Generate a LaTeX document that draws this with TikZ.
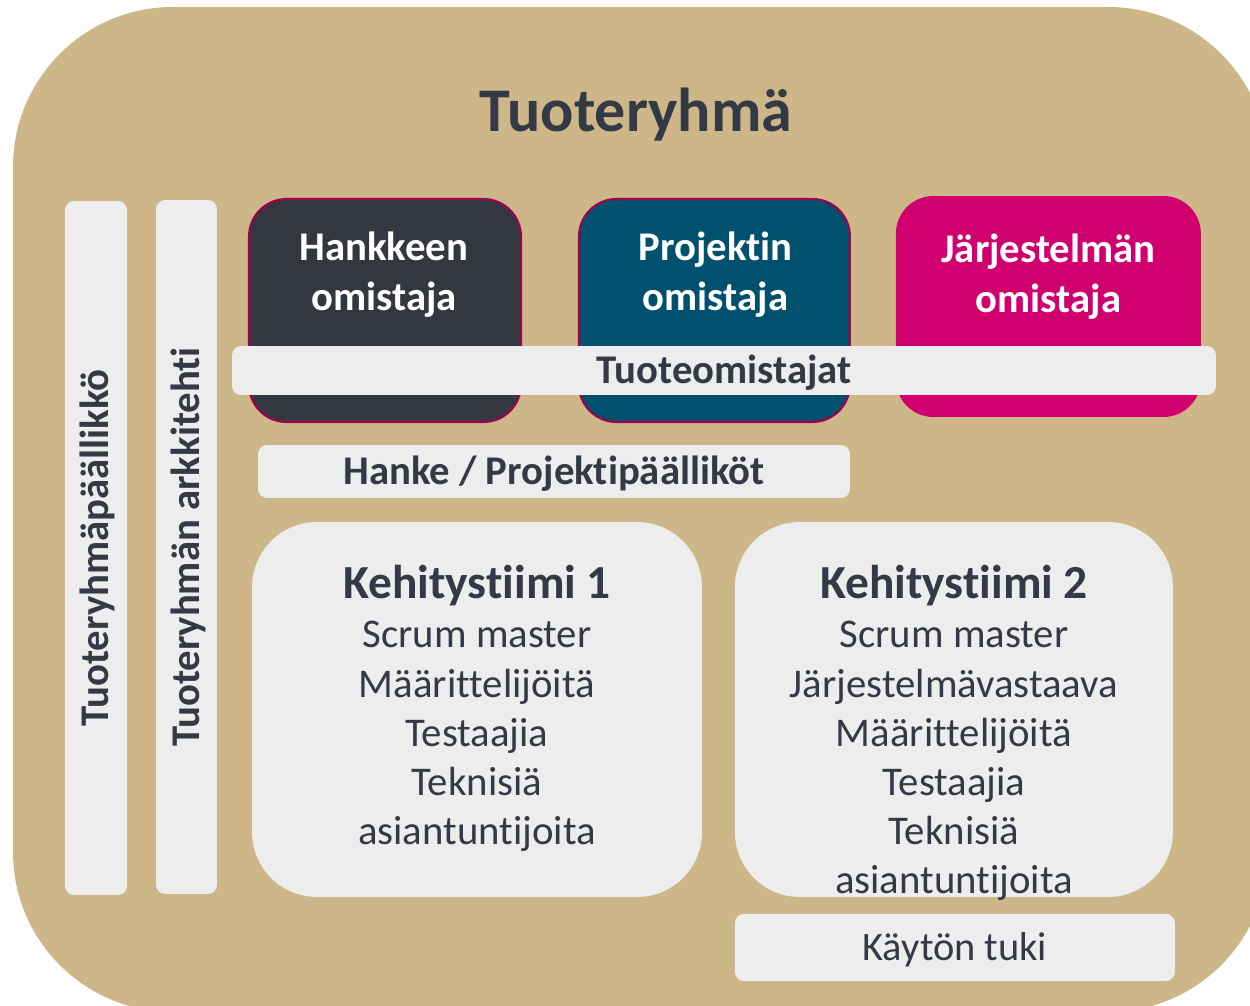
\documentclass[tikz,border=0pt]{standalone}
\usepackage{fontspec}
\setmainfont{Carlito}[Ligatures={NoCommon,NoContextual,NoRequired}]
\usepackage{tikz}
\usetikzlibrary{shapes.geometric, positioning}
\definecolor{ryhma}{HTML}{CDB788}
\definecolor{vaalea}{HTML}{EDEDED}
\definecolor{muste}{HTML}{343A45}
\definecolor{hankbg}{HTML}{333740}
\definecolor{projbg}{HTML}{00506E}
\definecolor{jarjbg}{HTML}{D0006F}
\definecolor{reuna}{HTML}{A00050}
\tikzstyle{owner} = [rectangle, rounded corners=0.75cm, minimum width=5.44cm, minimum height=4.46cm, draw=reuna, line width=1.2pt]
\tikzstyle{ownertext} = [anchor=north, inner sep=0pt, align=center, text=white, font=\bfseries\fontsize{23.2}{28}\selectfont]
\tikzstyle{bar} = [rectangle, rounded corners=0.18cm, fill=vaalea, text=muste, text height=14.7pt, text depth=0pt, font=\bfseries\fontsize{23.2}{28}\selectfont]
\tikzstyle{vbar} = [bar, rotate=90, minimum width=13.88cm, minimum height=1.24cm, font=\bfseries\fontsize{23.2}{28}\selectfont, text height=14.7pt]
\tikzstyle{team} = [rectangle, rounded corners=1.3cm, fill=vaalea, minimum width=9cm, minimum height=7.5cm]
\tikzstyle{teamtext} = [anchor=north, inner sep=0pt, align=center, text=muste, font=\fontsize{23.2}{28}\selectfont]

\begin{document}
\begin{tikzpicture}[x=0.02cm, y=-0.02cm, node distance=2cm]
                \useasboundingbox (0,0) rectangle (1250,1006);
                \clip (0,0) rectangle (1250,1006);
                \fill [ryhma, rounded corners=3.2cm] (13,7) rectangle (1268,1012);
                \node (otsikko) [anchor=base, text=muste, font=\bfseries\fontsize{35.3}{40}\selectfont] at (636,132) {Tuoteryhmä};
                % pystypalkit
                \node (paallikko) [vbar] at (96,548) {Tuoteryhmäpäällikkö};
                \node (arkkitehti) [vbar, minimum height=1.22cm] at (186.5,547) {Tuoteryhmän arkkitehti};
                % omistajat
                \node (hank) [owner, fill=hankbg] at (385,310.5) {};
                \node (proj) [owner, fill=projbg, minimum width=5.42cm, right of=hank, xshift=4.59cm] {};
                \node (jarj) [owner, fill=jarjbg, draw=none, minimum width=6.1cm, minimum height=4.42cm, right of=proj, xshift=4.68cm, yshift=0.08cm] {};
                \node (hanktxt) [ownertext] at (384,232) {Hankkeen\\omistaja};
                \node (projtxt) [ownertext] at (715.5,232) {Projektin\\omistaja};
                \node (jarjtxt) [ownertext] at (1048.5,234) {Järjestelmän\\omistaja};
                \node (tuoteom) [bar, minimum width=19.68cm, minimum height=0.98cm] at (724,370.5) {Tuoteomistajat};
                \node (hanke) [bar, minimum width=11.84cm, minimum height=1.06cm] at (554,471.5) {Hanke / Projektipäälliköt};
                % tiimit
                \node (tiimi1) [team] at (477,709.5) {};
                \node (tiimi2) [team, minimum width=8.76cm, right of=tiimi1, xshift=7.54cm] {};
                \node (tiimi1txt) [teamtext] at (477,565) {{\bfseries\fontsize{27}{28}\selectfont Kehitystiimi 1}\\Scrum master\\Määrittelijöitä\\Testaajia\\Teknisiä\\asiantuntijoita};
                \node (tiimi2txt) [teamtext] at (954,565) {{\bfseries\fontsize{27}{28}\selectfont Kehitystiimi 2}\\Scrum master\\Järjestelmävastaava\\Määrittelijöitä\\Testaajia\\Teknisiä\\asiantuntijoita};
                \node (tuki) [bar, font=\fontsize{23}{28}\selectfont, text height=14.5pt, minimum width=8.8cm, minimum height=1.34cm, below of=tiimi2, yshift=-2.76cm, xshift=0.02cm] {Käytön tuki};
            \end{tikzpicture}
\end{document}
